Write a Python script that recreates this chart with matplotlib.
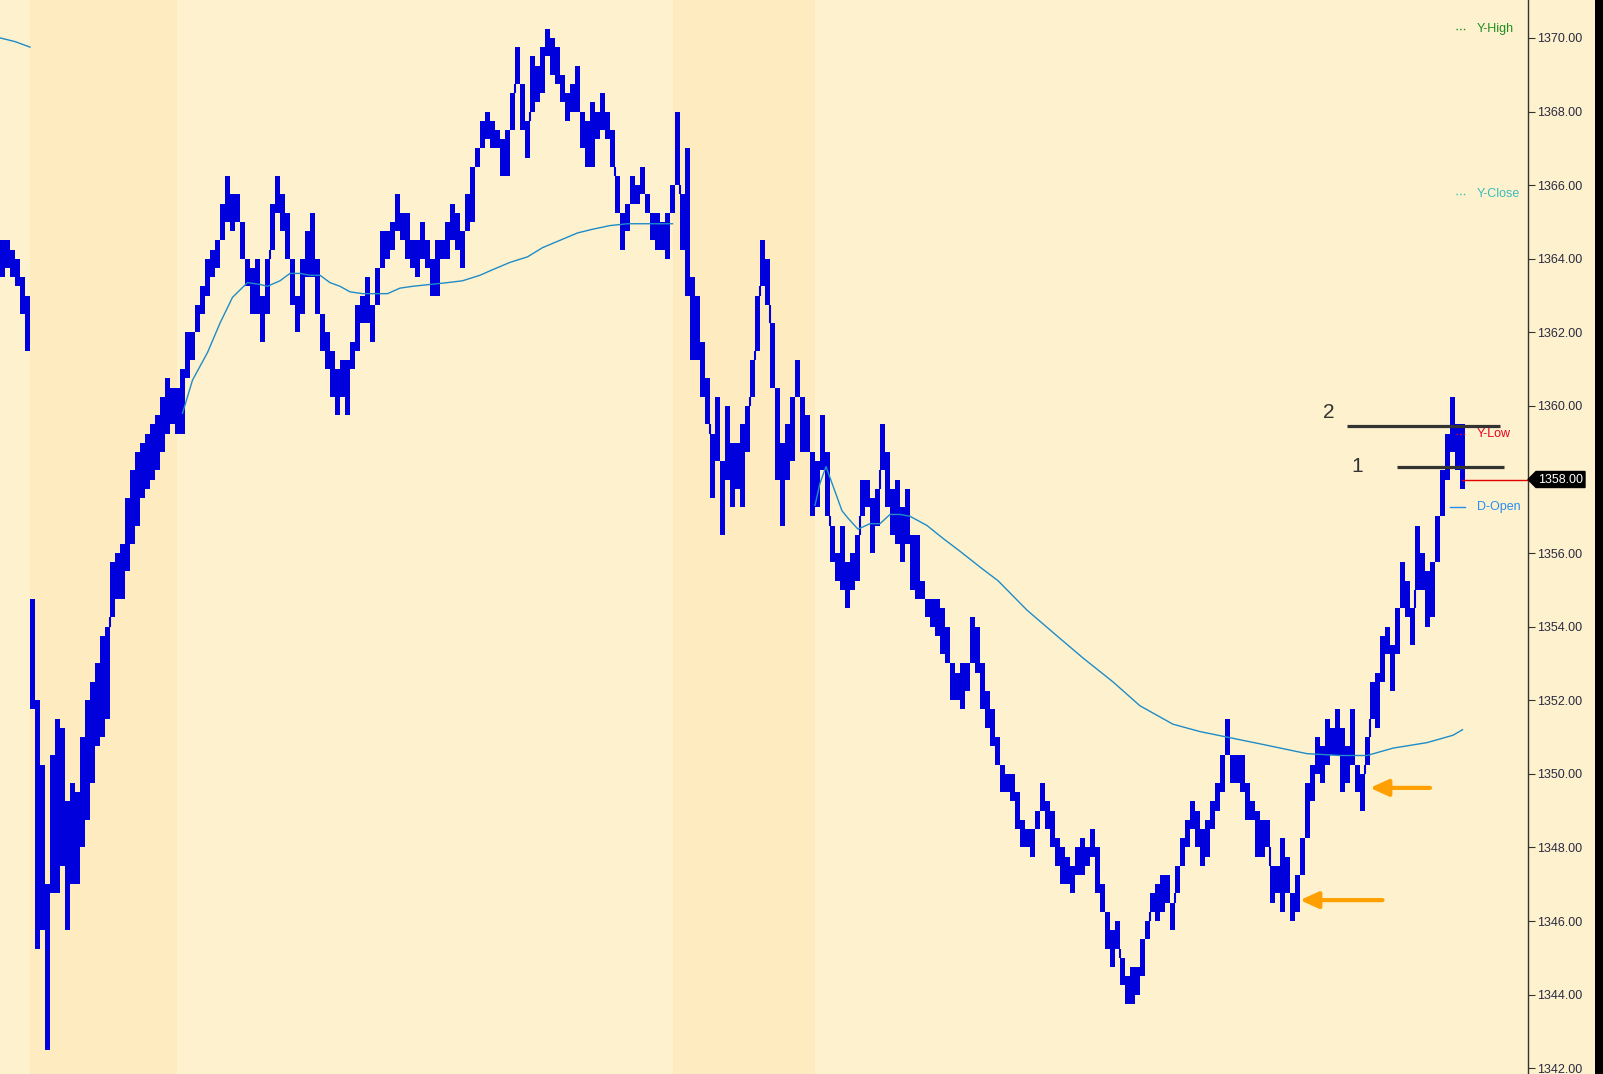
import matplotlib
matplotlib.use("Agg")
import matplotlib.pyplot as plt
from matplotlib.patches import Polygon, Rectangle
from matplotlib import transforms
import numpy as np

plt.rcParams['font.family'] = ['Liberation Sans', 'DejaVu Sans']

# ---------------- data ----------------
bar_high = [
    1364.5, 1364.5, 1364.25, 1364.0, 1363.5, 1363.0,
    1354.75, 1352.0, 1350.25, 1347.0,
    1350.5, 1351.5, 1351.25, 1349.25, 1349.75, 1349.5, 1351.0, 1352.0, 1352.5, 1353.0,
    1353.75, 1354.0, 1355.75, 1356.0, 1356.25, 1357.5, 1358.25, 1358.75, 1359.0, 1359.25,
    1359.5, 1359.75, 1360.25, 1360.75, 1360.5, 1360.5, 1361.0, 1362.0, 1362.0, 1362.75,
    1363.25, 1364.0, 1364.25, 1364.5, 1365.5, 1366.25, 1365.75, 1365.75, 1365.0, 1364.0,
    1363.75, 1364.0, 1363.0, 1364.0, 1365.5, 1366.25, 1365.75, 1365.25, 1364.0, 1363.0,
    1364.0, 1364.75, 1365.25, 1364.0, 1362.5, 1362.0, 1361.5, 1361.0, 1361.25, 1361.25,
    1361.75, 1362.75, 1363.0, 1363.5, 1362.75, 1363.75, 1364.75, 1364.75, 1365.0, 1365.75,
    1365.25, 1365.25, 1364.5, 1364.5, 1365.0, 1364.5, 1364.0, 1364.5, 1364.5, 1365.0,
    1365.5, 1365.25, 1364.75, 1365.75, 1366.5, 1367.0, 1367.75, 1368.0, 1367.75, 1367.5,
    1367.25, 1367.5, 1368.5, 1369.75, 1368.75, 1367.75, 1369.5, 1369.25, 1369.75, 1370.25,
    1370.0, 1369.75, 1369.0, 1368.5, 1368.75, 1369.25, 1368.0, 1367.75, 1368.25, 1368.0,
    1368.5, 1368.0, 1367.5, 1366.25, 1365.25, 1365.5, 1366.25, 1366.0, 1366.5, 1365.75,
    1365.25, 1365.25, 1365.0, 1365.25, 1366.0, 1368.0, 1365.75, 1367.0, 1363.5, 1363.0,
    1361.75, 1360.75, 1359.25, 1360.25, 1358.5, 1360.0, 1359.0, 1359.0, 1359.5, 1360.0,
    1361.25, 1363.0, 1364.5, 1364.0, 1362.25, 1360.5, 1359.0, 1359.5, 1360.25, 1361.25,
    1360.25, 1359.75, 1358.75, 1358.5, 1359.75, 1358.75, 1356.75, 1356.0, 1356.75, 1355.75,
    1356.0, 1356.5, 1358.0, 1358.0, 1357.5, 1357.75, 1359.5, 1358.75, 1357.75, 1358.0,
    1357.25, 1357.75, 1356.5, 1356.5, 1355.25, 1354.75, 1354.75, 1354.75, 1354.5, 1354.0,
    1353.0, 1352.75, 1353.0, 1353.0, 1354.25, 1354.0, 1353.0, 1352.25, 1351.75, 1351.0,
    1350.25, 1350.0, 1350.0, 1349.5, 1348.75, 1348.5, 1348.5, 1349.0, 1349.75, 1349.25,
    1349.0, 1348.25, 1348.0, 1347.75, 1347.5, 1348.0, 1348.25, 1348.0, 1348.5, 1348.0,
    1347.0, 1346.25, 1345.75, 1346.0, 1345.0, 1344.5, 1344.75, 1344.75, 1345.5, 1346.0,
    1346.75, 1347.0, 1347.25, 1347.25, 1346.5, 1347.5, 1348.25, 1348.75, 1349.25, 1349.0,
    1348.5, 1348.75, 1349.25, 1349.75, 1350.5, 1351.5, 1350.5, 1350.5, 1350.5, 1349.75,
    1349.25, 1349.0, 1348.75, 1348.75, 1347.5, 1347.5, 1348.25, 1347.75, 1346.75, 1347.25,
    1348.25, 1349.75, 1350.25, 1351.0, 1350.75, 1351.5, 1351.25, 1351.75, 1351.25, 1350.75,
    1351.75, 1350.25, 1350.0, 1351.0, 1352.5, 1352.75, 1353.75, 1354.0, 1353.5, 1354.5,
    1355.75, 1355.25, 1354.5, 1356.75, 1356.0, 1355.5, 1355.75, 1357.0, 1358.25, 1359.25,
    1360.25, 1359.5, 1359.5,
]
bar_low = [
    1363.5, 1363.75, 1363.5, 1363.25, 1362.5, 1361.5,
    1351.75, 1345.25, 1345.75, 1342.5,
    1346.75, 1346.75, 1347.5, 1345.75, 1347.0, 1347.0, 1348.0, 1348.75, 1349.75, 1350.75,
    1351.0, 1351.5, 1354.25, 1354.75, 1354.75, 1355.5, 1356.25, 1356.75, 1357.5, 1357.75,
    1358.0, 1358.25, 1358.75, 1359.25, 1359.5, 1359.25, 1359.25, 1360.75, 1361.25, 1362.0,
    1362.5, 1363.0, 1363.5, 1363.75, 1364.5, 1365.0, 1364.75, 1365.0, 1364.0, 1363.25,
    1362.5, 1362.5, 1361.75, 1362.5, 1364.25, 1365.25, 1364.75, 1364.0, 1362.75, 1362.0,
    1362.5, 1363.5, 1363.5, 1362.5, 1361.5, 1361.0, 1360.25, 1359.75, 1360.25, 1359.75,
    1361.0, 1361.5, 1362.25, 1362.25, 1361.75, 1362.75, 1363.75, 1364.0, 1364.25, 1364.75,
    1364.5, 1364.0, 1363.75, 1363.5, 1364.0, 1363.75, 1363.0, 1363.0, 1364.0, 1364.0,
    1364.5, 1364.25, 1363.75, 1364.75, 1365.0, 1366.5, 1367.0, 1367.25, 1367.0, 1367.0,
    1366.25, 1366.25, 1367.5, 1368.75, 1367.5, 1366.75, 1368.0, 1368.25, 1368.5, 1369.5,
    1369.0, 1368.75, 1368.25, 1367.75, 1368.0, 1368.0, 1367.0, 1366.5, 1366.5, 1367.25,
    1367.5, 1367.25, 1366.5, 1365.25, 1364.25, 1364.75, 1365.5, 1365.5, 1365.75, 1365.25,
    1364.5, 1364.25, 1364.25, 1364.0, 1365.25, 1366.0, 1364.25, 1363.0, 1361.25, 1361.25,
    1360.25, 1359.5, 1357.5, 1358.5, 1356.5, 1358.0, 1357.25, 1357.75, 1357.25, 1358.75,
    1360.25, 1361.5, 1363.25, 1362.75, 1360.5, 1358.0, 1356.75, 1358.0, 1358.5, 1360.25,
    1358.75, 1358.75, 1357.0, 1357.25, 1358.25, 1357.0, 1355.75, 1355.25, 1355.0, 1354.5,
    1355.0, 1355.25, 1357.0, 1357.25, 1356.0, 1356.75, 1358.25, 1357.25, 1356.5, 1356.25,
    1355.75, 1356.25, 1355.0, 1354.75, 1354.75, 1354.25, 1354.0, 1353.75, 1353.25, 1353.0,
    1352.0, 1352.0, 1351.75, 1352.25, 1353.0, 1352.75, 1351.75, 1351.25, 1350.75, 1350.25,
    1349.5, 1349.5, 1349.25, 1348.5, 1348.0, 1348.0, 1347.75, 1348.5, 1349.0, 1348.5,
    1348.0, 1347.5, 1347.0, 1347.0, 1346.75, 1347.25, 1347.25, 1347.5, 1347.75, 1346.75,
    1346.25, 1345.25, 1344.75, 1345.25, 1344.25, 1343.75, 1343.75, 1344.0, 1344.5, 1345.5,
    1346.25, 1346.0, 1346.25, 1346.5, 1345.75, 1346.75, 1347.5, 1348.0, 1348.5, 1348.0,
    1347.5, 1347.75, 1348.5, 1349.0, 1349.5, 1350.5, 1349.75, 1349.75, 1349.5, 1348.75,
    1348.75, 1347.75, 1347.75, 1348.0, 1346.5, 1346.75, 1346.25, 1346.75, 1346.0, 1346.25,
    1347.25, 1348.25, 1349.25, 1350.0, 1349.75, 1350.25, 1350.5, 1350.5, 1349.5, 1349.75,
    1350.25, 1349.5, 1349.0, 1350.25, 1351.5, 1351.25, 1352.5, 1353.25, 1352.25, 1353.25,
    1354.5, 1354.25, 1353.5, 1355.0, 1355.0, 1354.0, 1354.25, 1355.75, 1357.0, 1358.0,
    1358.75, 1358.25, 1357.75,
]
last_price = 1358.00

# moving average, one piece per day session (bar index, value)
ma_prev_idx = [-0.5, 2.5, 5.5]
ma_prev_val = [1370.0, 1369.9, 1369.75]
ma_day2_idx = [36, 38, 41, 43.5, 46, 49, 51.5, 53, 55.5, 57.5, 59.5, 61.5, 63.5, 65.5, 67.5,
               69.5, 72, 74, 77, 79.5, 82, 85.5, 89, 92, 95.5, 98, 101.5, 105, 108, 111.5,
               115, 118, 121.5, 125, 128, 131.5, 134]
ma_day2_val = [1359.8, 1360.7, 1361.45, 1362.25, 1362.95, 1363.35, 1363.3, 1363.25, 1363.4,
               1363.6, 1363.6, 1363.55, 1363.55, 1363.35, 1363.25, 1363.1, 1363.05, 1363.05,
               1363.05, 1363.2, 1363.25, 1363.3, 1363.35, 1363.4, 1363.55, 1363.7, 1363.9,
               1364.05, 1364.3, 1364.5, 1364.7, 1364.8, 1364.9, 1364.95, 1364.95, 1364.95,
               1364.95]
ma_day3_idx = [162.5, 163.5, 164.7, 165.9, 167.9, 169.1, 171.1, 173.5, 175.5, 177.5, 179.5,
               181.5, 184.9, 188.1, 191.5, 195.7, 199.1, 204.9, 210.9, 216.1, 222.1, 227.5,
               234.1, 239.5, 244.9, 252.1, 260.9, 267.5, 272.9, 278.1, 284.9, 290.1, 292]
ma_day3_val = [1357.3, 1357.9, 1358.35, 1357.9, 1357.15, 1356.95, 1356.65, 1356.8, 1356.8,
               1357.05, 1357.05, 1357.0, 1356.75, 1356.4, 1356.05, 1355.6, 1355.25, 1354.45,
               1353.75, 1353.15, 1352.5, 1351.85, 1351.35, 1351.15, 1351.0, 1350.8, 1350.55,
               1350.5, 1350.5, 1350.7, 1350.85, 1351.05, 1351.2]

# overnight (shaded) sessions, in bar index
band_start = [5.5, 134.1]
band_end = [34.9, 162.5]

# reference levels
level_names = ["Y-High", "Y-Close", "Y-Low", "D-Open"]
level_values = [1370.25, 1365.75, 1359.25, 1357.25]
level_colors = ["#1f8f1f", "#3cbcbc", "#e8001c", "#2a8cf0"]
level_styles = [":", ":", ":", "-"]

# user-drawn lines
drawn_labels = ["2", "1"]
drawn_values = [1359.45, 1358.35]

# arrows (tip bar index, price)
arrow_tips = [(273.5, 1349.62), (259.5, 1346.57)]

yticks = np.arange(1342, 1371, 2)

# ---------------- style ----------------
BG = "#FEF1CE"
BAND = "#FEEBBF"
BLUE = "#0000DC"
MA_C = "#1E8CC8"

W, H = 1603, 1074
fig = plt.figure(figsize=(W / 100, H / 100), dpi=100, facecolor=BG)
ax = fig.add_axes([0, 0, 1528 / W, 1])
ax.set_facecolor(BG)

ymin, ymax = 1341.845, 1371.03
ax.set_ylim(ymin, ymax)
ax.set_xlim(-0.5, 305.1)

for s, e in zip(band_start, band_end):
    ax.axvspan(s, e, color=BAND, lw=0, zorder=0)

idx = np.arange(len(bar_high))
hi = np.array(bar_high)
lo = np.array(bar_low)
# body of each bar plus a thin full-range stroke
ax.bar(idx, hi - lo, bottom=lo, width=0.9, color=BLUE, linewidth=0, zorder=3)
ax.vlines(idx, lo, hi, color=BLUE, lw=1.2, zorder=3)
# join consecutive bars inside a session where their ranges do not touch
session_break = 5
for i in range(len(idx) - 1):
    if i == session_break:
        continue
    if hi[i] < lo[i + 1]:
        ax.vlines(i + 0.5, hi[i], lo[i + 1], color=BLUE, lw=1.5, zorder=3)
    elif lo[i] > hi[i + 1]:
        ax.vlines(i + 0.5, hi[i + 1], lo[i], color=BLUE, lw=1.5, zorder=3)

for xs, ys in [(ma_prev_idx, ma_prev_val), (ma_day2_idx, ma_day2_val), (ma_day3_idx, ma_day3_val)]:
    ax.plot(xs, ys, color=MA_C, lw=1.0, zorder=4)

# last price line
ax.plot([idx[-1], 305.1], [last_price, last_price], color="#e00000", lw=1.0, zorder=4,
        clip_on=False)

# level markers and labels
for name, v, c, ls in zip(level_names, level_values, level_colors, level_styles):
    x0 = 289.5 if ls == "-" else 290.7
    ax.plot([x0, 292.5], [v, v], color=c, lw=1.0, ls=ls, zorder=4)
    ax.text(294.9, v, name, color=c, fontsize=9, ha="left", va="center", zorder=5)

# drawn horizontal lines with numbers
ax.plot([268.9, 299.5], [drawn_values[0]] * 2, color="#333333", lw=2.3, zorder=6,
        solid_capstyle="butt")
ax.plot([278.9, 300.3], [drawn_values[1]] * 2, color="#333333", lw=2.3, zorder=6,
        solid_capstyle="butt")
ax.text(265.3, drawn_values[0] + 0.36, drawn_labels[0], fontsize=15, color="#333333",
        ha="center", va="center", zorder=6)
ax.text(270.9, drawn_values[1], drawn_labels[1], fontsize=15, color="#333333",
        ha="center", va="center", zorder=6)

# orange arrows
for tx, ty in arrow_tips:
    ax.annotate("", xy=(tx, ty), xytext=(tx + (12 if tx > 265 else 16.5), ty),
                arrowprops=dict(arrowstyle="-|>,head_length=1.1,head_width=0.5",
                                color="#FFA000", lw=3.0, shrinkA=0, shrinkB=0),
                zorder=7)

# axis styling
for sp in ["left", "top", "bottom"]:
    ax.spines[sp].set_visible(False)
ax.spines["right"].set_color("#333333")
ax.spines["right"].set_linewidth(1.0)
ax.set_xticks([])
ax.yaxis.tick_right()
ax.set_yticks(yticks)
ax.set_yticklabels([f"{t:.2f}" for t in yticks])
ax.tick_params(axis="y", direction="out", length=5, width=0.8, color="#333333",
               labelsize=9, labelcolor="#2a2a40", pad=1.5)

# price tag on the axis
tr = transforms.blended_transform_factory(ax.transAxes, ax.transData)
px = 1.0 / 1528  # axes fraction per pixel
dy = 8 / 36.8
tag = Polygon([(1.0, last_price), (1.0 + 8 * px, last_price + dy),
               (1.0 + 57 * px, last_price + dy), (1.0 + 57 * px, last_price - dy),
               (1.0 + 8 * px, last_price - dy)], closed=True, transform=tr,
              facecolor="black", edgecolor="black", clip_on=False, zorder=8)
ax.add_patch(tag)
ax.text(1.0 + 33 * px, last_price, f"{last_price:.2f}", transform=tr, color="white",
        fontsize=9, ha="center", va="center", clip_on=False, zorder=9)

# black strip at far right
fig.patches.append(Rectangle((1595 / W, 0), 8 / W, 1, transform=fig.transFigure,
                             facecolor="black", edgecolor="none"))

fig.savefig("out.png", dpi=100, facecolor=BG)
